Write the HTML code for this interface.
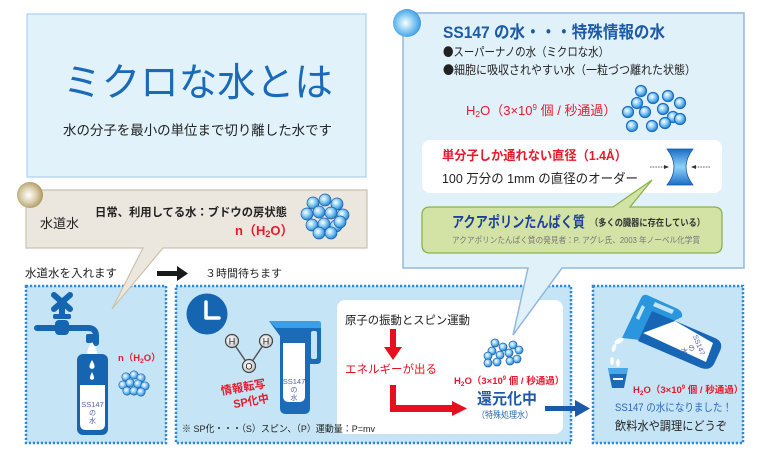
<!DOCTYPE html>
<html><head><meta charset="utf-8"><style>
html,body{margin:0;padding:0;background:#fff;}
svg{display:block;}
text{font-family:"Liberation Sans","Noto Sans CJK JP",sans-serif;}
.cjk{font-family:"Noto Sans CJK JP",sans-serif;}
</style></head><body>
<svg width="761" height="460" viewBox="0 0 761 460" xmlns="http://www.w3.org/2000/svg">
<defs>
<radialGradient id="sph" cx="0.4" cy="0.38" r="0.65">
 <stop offset="0" stop-color="#ffffff"/>
 <stop offset="0.45" stop-color="#8fd0f5"/>
 <stop offset="1" stop-color="#1b7fd4"/>
</radialGradient>
<radialGradient id="big" cx="0.45" cy="0.5" r="0.6">
 <stop offset="0" stop-color="#ffffff"/>
 <stop offset="0.5" stop-color="#86cbf3"/>
 <stop offset="1" stop-color="#2a8fe0"/>
</radialGradient>
<radialGradient id="gold" cx="0.45" cy="0.5" r="0.6">
 <stop offset="0" stop-color="#ffffff"/>
 <stop offset="0.5" stop-color="#d9cfae"/>
 <stop offset="1" stop-color="#a38c4c"/>
</radialGradient>
<linearGradient id="hg" x1="0" y1="0" x2="0" y2="1">
 <stop offset="0" stop-color="#1a6cc8"/>
 <stop offset="0.5" stop-color="#8fd3f7"/>
 <stop offset="1" stop-color="#1a6cc8"/>
</linearGradient>
<radialGradient id="atom" cx="0.4" cy="0.4" r="0.6">
 <stop offset="0" stop-color="#ffffff"/>
 <stop offset="1" stop-color="#c8c8c8"/>
</radialGradient>
</defs>

<!-- Title box -->
<rect x="27" y="14" width="339" height="163" fill="#e1f2fb" stroke="#a9d3f2" stroke-width="1.2"/>
<text x="63" y="96" font-size="39" fill="#1a6ab8" textLength="270" lengthAdjust="spacingAndGlyphs">ミクロな水とは</text>
<text x="63" y="135" font-size="13.4" fill="#222" textLength="269" lengthAdjust="spacingAndGlyphs">水の分子を最小の単位まで切り離した水です</text>

<!-- Labels between -->
<text x="25" y="277" font-size="11.5" fill="#222" textLength="92" lengthAdjust="spacingAndGlyphs">水道水を入れます</text>
<path d="M157 271 H177 V266 L188 273.5 L177 281 V276 H157 Z" fill="#1a1a1a"/>
<text x="205" y="277" font-size="11" fill="#222" textLength="77" lengthAdjust="spacingAndGlyphs">３時間待ちます</text>

<!-- Panels -->
<rect x="26" y="286" width="140" height="157" fill="#c5e5f7" stroke="#2e8ad6" stroke-width="2.5" stroke-dasharray="2.2 1.8"/>
<rect x="176" y="286" width="395" height="157" fill="#c5e5f7" stroke="#2e8ad6" stroke-width="2.5" stroke-dasharray="2.2 1.8"/>
<rect x="593" y="286" width="150" height="157" fill="#c5e5f7" stroke="#2e8ad6" stroke-width="2.5" stroke-dasharray="2.2 1.8"/>

<!-- Panel 1: faucet -->
<g fill="#1565b0" stroke="none">
 <line x1="54" y1="295" x2="70" y2="309" stroke="#1565b0" stroke-width="6" stroke-linecap="round"/>
 <line x1="70" y1="295" x2="54" y2="309" stroke="#1565b0" stroke-width="6" stroke-linecap="round"/>
 <rect x="59" y="302" width="6" height="16" />
 <rect x="53" y="314" width="18" height="5" rx="2"/>
 <rect x="55" y="320" width="14" height="15" rx="4"/>
 <path d="M37 328 H88 Q96 328 96 336 V343" fill="none" stroke="#1565b0" stroke-width="6" stroke-linecap="round"/>
 <rect x="86" y="334" width="12" height="9" rx="2"/>
</g>
<path d="M92 342 Q86 351 87.5 354 A4.6 4.6 0 0 0 96.5 354 Q98 351 92 342 Z" fill="#fff"/>
<rect x="77" y="354" width="31" height="81" rx="6" fill="#1565b0"/>
<path d="M92 360 Q89 365 89.5 367 A2.6 2.6 0 0 0 94.5 367 Q95 365 92 360 Z" fill="#fff"/>
<path d="M92 372 Q89.5 377 90 378.5 A2.2 2.2 0 0 0 94 378.5 Q94.5 377 92 372 Z" fill="#fff"/>
<path d="M80 385 H105 V424 Q105 430 99 430 H86 Q80 430 80 424 Z" fill="#fff"/>
<text x="92.5" y="407" font-size="7.5" fill="#5560a8" text-anchor="middle">SS147</text>
<text x="92.5" y="415" font-size="7" fill="#5560a8" text-anchor="middle">の</text>
<text x="92.5" y="423" font-size="7" fill="#5560a8" text-anchor="middle">水</text>
<text x="118" y="361" font-size="9.5" font-weight="bold" fill="#e8192c">n（H<tspan font-size="6.5" dy="2">2</tspan><tspan dy="-2">O）</tspan></text>
<g fill="url(#sph)" stroke="#1a5aa8" stroke-width="0.6">
 <circle cx="126" cy="377" r="4.2"/><circle cx="134" cy="375" r="4.2"/><circle cx="141" cy="378" r="4.2"/>
 <circle cx="123" cy="385" r="4.2"/><circle cx="130" cy="383" r="4.2"/><circle cx="138" cy="384" r="4.2"/><circle cx="145" cy="386" r="4.2"/>
 <circle cx="127" cy="391" r="4.2"/><circle cx="134" cy="391" r="4.2"/><circle cx="141" cy="392" r="4.2"/>
</g>

<!-- Panel 2 -->
<circle cx="207" cy="314" r="20.5" fill="#1565b0"/>
<path d="M206 302 V318 H219" fill="none" stroke="#fff" stroke-width="3.5" stroke-linecap="round" stroke-linejoin="round"/>
<line x1="232" y1="341" x2="249" y2="366" stroke="#555" stroke-width="1.5"/>
<line x1="266" y1="341" x2="249" y2="366" stroke="#555" stroke-width="1.5"/>
<circle cx="232" cy="341" r="6.5" fill="url(#atom)" stroke="#444" stroke-width="1.2"/>
<circle cx="266" cy="341" r="6.5" fill="url(#atom)" stroke="#444" stroke-width="1.2"/>
<circle cx="249" cy="366" r="6.5" fill="url(#atom)" stroke="#444" stroke-width="1.2"/>
<text x="232" y="344.5" font-size="9" fill="#222" text-anchor="middle">H</text>
<text x="266" y="344.5" font-size="9" fill="#222" text-anchor="middle">H</text>
<text x="249" y="369.5" font-size="9" fill="#222" text-anchor="middle">O</text>
<g transform="rotate(-10 245 395)" fill="#e8192c" font-weight="bold">
 <text x="222" y="391" font-size="11.5" textLength="45" lengthAdjust="spacingAndGlyphs">情報転写</text>
 <text x="232" y="406" font-size="11.5" textLength="36" lengthAdjust="spacingAndGlyphs">SP化中</text>
</g>
<!-- pitcher -->
<path d="M269 321 H318 Q321 321 321 324 V360 Q321 364 317 364 H310 V408 Q310 414 304 414 H286 Q280 414 280 408 V336 Z" fill="#1a6cb8"/>
<path d="M269 321 H318 Q321 321 321 324 V328 H276 Z" fill="#3c9fe6"/>
<rect x="311" y="331" width="6" height="28" rx="2" fill="#c5e5f7"/>
<path d="M283 343 H305 V396 Q305 402 299 402 H289 Q283 402 283 396 Z" fill="#fff"/>
<text x="294" y="384" font-size="7.5" fill="#5560a8" text-anchor="middle">SS147</text>
<text x="294" y="392" font-size="7" fill="#5560a8" text-anchor="middle">の</text>
<text x="294" y="400" font-size="7" fill="#5560a8" text-anchor="middle">水</text>

<!-- white box -->
<rect x="337" y="300" width="226" height="134" rx="8" fill="#fff"/>
<text x="182" y="432" font-size="9.5" fill="#222" textLength="193" lengthAdjust="spacingAndGlyphs">※ SP化・・・（S）スピン、（P）運動量：P=mv</text>
<text x="345" y="324" font-size="11.5" fill="#222" textLength="125" lengthAdjust="spacingAndGlyphs">原子の振動とスピン運動</text>
<path d="M390 329 H396 V347 H402 L393 360 L384 347 H390 Z" fill="#e60f1e"/>
<text x="345" y="373" font-size="11.5" fill="#e60f1e" textLength="92" lengthAdjust="spacingAndGlyphs">エネルギーが出る</text>
<path d="M390 385 H396 V405 H452 V401 L467 408.5 L452 416 V412 H390 Z" fill="#e60f1e"/>
<g fill="url(#sph)" stroke="#1a5aa8" stroke-width="0.7">
 <circle cx="495" cy="343" r="4"/><circle cx="503" cy="347" r="4"/><circle cx="513" cy="345" r="4"/><circle cx="519" cy="350" r="4"/>
 <circle cx="492" cy="351" r="4"/><circle cx="500" cy="355" r="4"/><circle cx="509" cy="353" r="4"/>
 <circle cx="488" cy="356" r="4"/><circle cx="497" cy="362" r="4"/><circle cx="510" cy="361" r="4"/><circle cx="517" cy="359" r="4"/><circle cx="488" cy="363" r="4"/>
</g>
<text x="454" y="384" font-size="9.5" font-weight="bold" fill="#e8192c">H<tspan font-size="6.5" dy="2">2</tspan><tspan dy="-2">O（3×10</tspan><tspan font-size="6" dy="-4">9</tspan><tspan dy="4"> 個 / 秒通過）</tspan></text>
<text x="477" y="404" font-size="15.5" font-weight="bold" fill="#1e5aa8" textLength="60" lengthAdjust="spacingAndGlyphs">還元化中</text>
<text x="477" y="418" font-size="9" fill="#2a6ab0" textLength="56" lengthAdjust="spacingAndGlyphs">（特殊処理水）</text>
<path d="M545 406 H575 V400 L590 408.5 L575 417 V411 H545 Z" fill="#1a5aa8"/>

<!-- Panel 3 -->
<path d="M622 338 L641 298 Q643 294 647 295 L678 309 Q683 312 682 317 L655 330 L640 340 Z" fill="#2a96de"/>
<path d="M655 302 L674 310 L672 314 L653 306 Z" fill="#c5e5f7"/>
<path d="M636 318 L642 305 L645 307 L639 320 Z" fill="#c5e5f7"/>
<path d="M652 311 L715 338 Q724 342 720 351 L714 364 Q710 371 701 368 L638 341 Z" fill="#1765b5"/>
<path d="M643 333 L675 321 L713 343 L706 362 Z" fill="#fff"/>
<g transform="translate(694 347) rotate(68)" fill="#5560a8" font-size="7" text-anchor="middle">
 <text x="0" y="-3">SS147</text>
 <text x="0" y="5">の</text>
 <text x="0" y="13">水</text>
</g>
<ellipse cx="619" cy="341" rx="5" ry="2.5" transform="rotate(-30 619 341)" fill="#fff"/>
<ellipse cx="614" cy="348" rx="2" ry="4" transform="rotate(20 614 348)" fill="#fff"/>
<ellipse cx="612" cy="361" rx="1.8" ry="4" fill="#fff"/>
<ellipse cx="618" cy="363" rx="1.8" ry="4" fill="#fff"/>
<path d="M608 368 H628 L624 388 H612 Z" fill="#1a6cb8"/>
<path d="M608 368 H628 L627 374 H609 Z" fill="#4aa8e8"/>
<rect x="613" y="378" width="10" height="2" fill="#fff"/>
<text x="633" y="393" font-size="9.5" font-weight="bold" fill="#e8192c">H<tspan font-size="6.5" dy="2">2</tspan><tspan dy="-2">O（3×10</tspan><tspan font-size="6" dy="-4">9</tspan><tspan dy="4"> 個 / 秒通過）</tspan></text>
<text x="615" y="411" font-size="11" fill="#2a6ab8" textLength="117" lengthAdjust="spacingAndGlyphs">SS147 の水になりました！</text>
<text x="615" y="430" font-size="12" fill="#222" textLength="112" lengthAdjust="spacingAndGlyphs">飲料水や調理にどうぞ</text>

<!-- Beige bubble -->
<path d="M26 190 H367 V248 H163 L112 309 L143 248 H26 Z" fill="#ece7de" stroke="#cbc2ad" stroke-width="1.2"/>
<circle cx="30" cy="195" r="13" fill="url(#gold)"/>
<text x="40" y="228" font-size="13" fill="#222" textLength="39" lengthAdjust="spacingAndGlyphs">水道水</text>
<text x="95" y="216" font-size="11.3" font-weight="bold" fill="#222" textLength="192" lengthAdjust="spacingAndGlyphs">日常、利用してる水：ブドウの房状態</text>
<text x="235" y="235" font-size="13" font-weight="bold" fill="#e8192c">n（H<tspan font-size="9" dy="2">2</tspan><tspan dy="-2">O）</tspan></text>
<g fill="url(#sph)" stroke="#1a5aa8" stroke-width="0.7">
 <circle cx="313" cy="203" r="6"/><circle cx="325" cy="200" r="6"/><circle cx="337" cy="204" r="6"/>
 <circle cx="307" cy="214" r="6"/><circle cx="319" cy="212" r="6"/><circle cx="331" cy="213" r="6"/><circle cx="343" cy="215" r="6"/>
 <circle cx="312" cy="225" r="6"/><circle cx="324" cy="224" r="6"/><circle cx="336" cy="226" r="6"/>
 <circle cx="319" cy="233" r="6"/><circle cx="331" cy="233" r="6"/><circle cx="340" cy="222" r="6"/>
</g>

<!-- Top-right bubble -->
<path d="M403 13 H744 V268 H562 L513 335 L528 268 H403 Z" fill="#e1f1fa" stroke="#93b8de" stroke-width="1.5"/>
<circle cx="407" cy="23" r="14" fill="url(#big)"/>
<text x="443" y="38" font-size="17" font-weight="bold" fill="#1d5aa5" textLength="222" lengthAdjust="spacingAndGlyphs">SS147 の水・・・特殊情報の水</text>
<text x="443" y="56" font-size="12" fill="#222" textLength="166" lengthAdjust="spacingAndGlyphs"><tspan class="cjk">●</tspan>スーパーナノの水（ミクロな水）</text>
<text x="443" y="74" font-size="12" fill="#222" textLength="253" lengthAdjust="spacingAndGlyphs"><tspan class="cjk">●</tspan>細胞に吸収されやすい水（一粒づつ離れた状態）</text>
<text x="466" y="115" font-size="13" fill="#e8192c">H<tspan font-size="8.5" dy="2">2</tspan><tspan dy="-2">O（3×10</tspan><tspan font-size="8" dy="-5">9</tspan><tspan dy="5"> 個 / 秒通過）</tspan></text>
<g fill="url(#sph)" stroke="#1a6cc0" stroke-width="1.2">
 <circle cx="641" cy="91" r="5.5"/><circle cx="653" cy="98" r="5.5"/><circle cx="668" cy="96" r="5.5"/><circle cx="680" cy="103" r="5.5"/>
 <circle cx="637" cy="103" r="5.5"/><circle cx="628" cy="112" r="5.5"/><circle cx="645" cy="112" r="5.5"/><circle cx="663" cy="109" r="5.5"/>
 <circle cx="673" cy="117" r="5.5"/><circle cx="632" cy="126" r="5.5"/><circle cx="652" cy="126" r="5.5"/><circle cx="665" cy="123" r="5.5"/><circle cx="680" cy="119" r="5.5"/>
</g>
<rect x="422" y="140" width="300" height="53" rx="8" fill="#fff"/>
<text x="442" y="160" font-size="13" font-weight="bold" fill="#e8192c" textLength="185" lengthAdjust="spacingAndGlyphs">単分子しか通れない直径（1.4Å）</text>
<text x="442" y="183" font-size="13" fill="#222" textLength="196" lengthAdjust="spacingAndGlyphs">100 万分の 1mm の直径のオーダー</text>
<path d="M667 149 H693 Q679 167 693 185 H667 Q681 167 667 149 Z" fill="url(#hg)" stroke="#1a5aa8" stroke-width="0.8"/>
<line x1="650" y1="167" x2="665" y2="167" stroke="#555" stroke-width="1" stroke-dasharray="1.5 1.2"/>
<path d="M664 165 L669 167 L664 169 Z" fill="#333"/>
<line x1="710" y1="167" x2="695" y2="167" stroke="#555" stroke-width="1" stroke-dasharray="1.5 1.2"/>
<path d="M696 165 L691 167 L696 169 Z" fill="#333"/>
<path d="M430 207 H613 L652 180 L630 207 H714 Q722 207 722 215 V245 Q722 253 714 253 H430 Q422 253 422 245 V215 Q422 207 430 207 Z" fill="#d3e3a5" stroke="#8cb24a" stroke-width="1.3"/>
<text x="452" y="227" font-size="15" font-weight="bold" fill="#1e3f9a" textLength="133" lengthAdjust="spacingAndGlyphs">アクアポリンたんぱく質</text>
<text x="590" y="226" font-size="9.5" font-weight="bold" fill="#333" textLength="115" lengthAdjust="spacingAndGlyphs">（多くの臓器に存在している）</text>
<text x="452" y="243" font-size="8.3" fill="#777" textLength="248" lengthAdjust="spacingAndGlyphs">アクアポリンたんぱく質の発見者：P. アグレ氏、2003 年ノーベル化学賞</text>
</svg>
</body></html>
